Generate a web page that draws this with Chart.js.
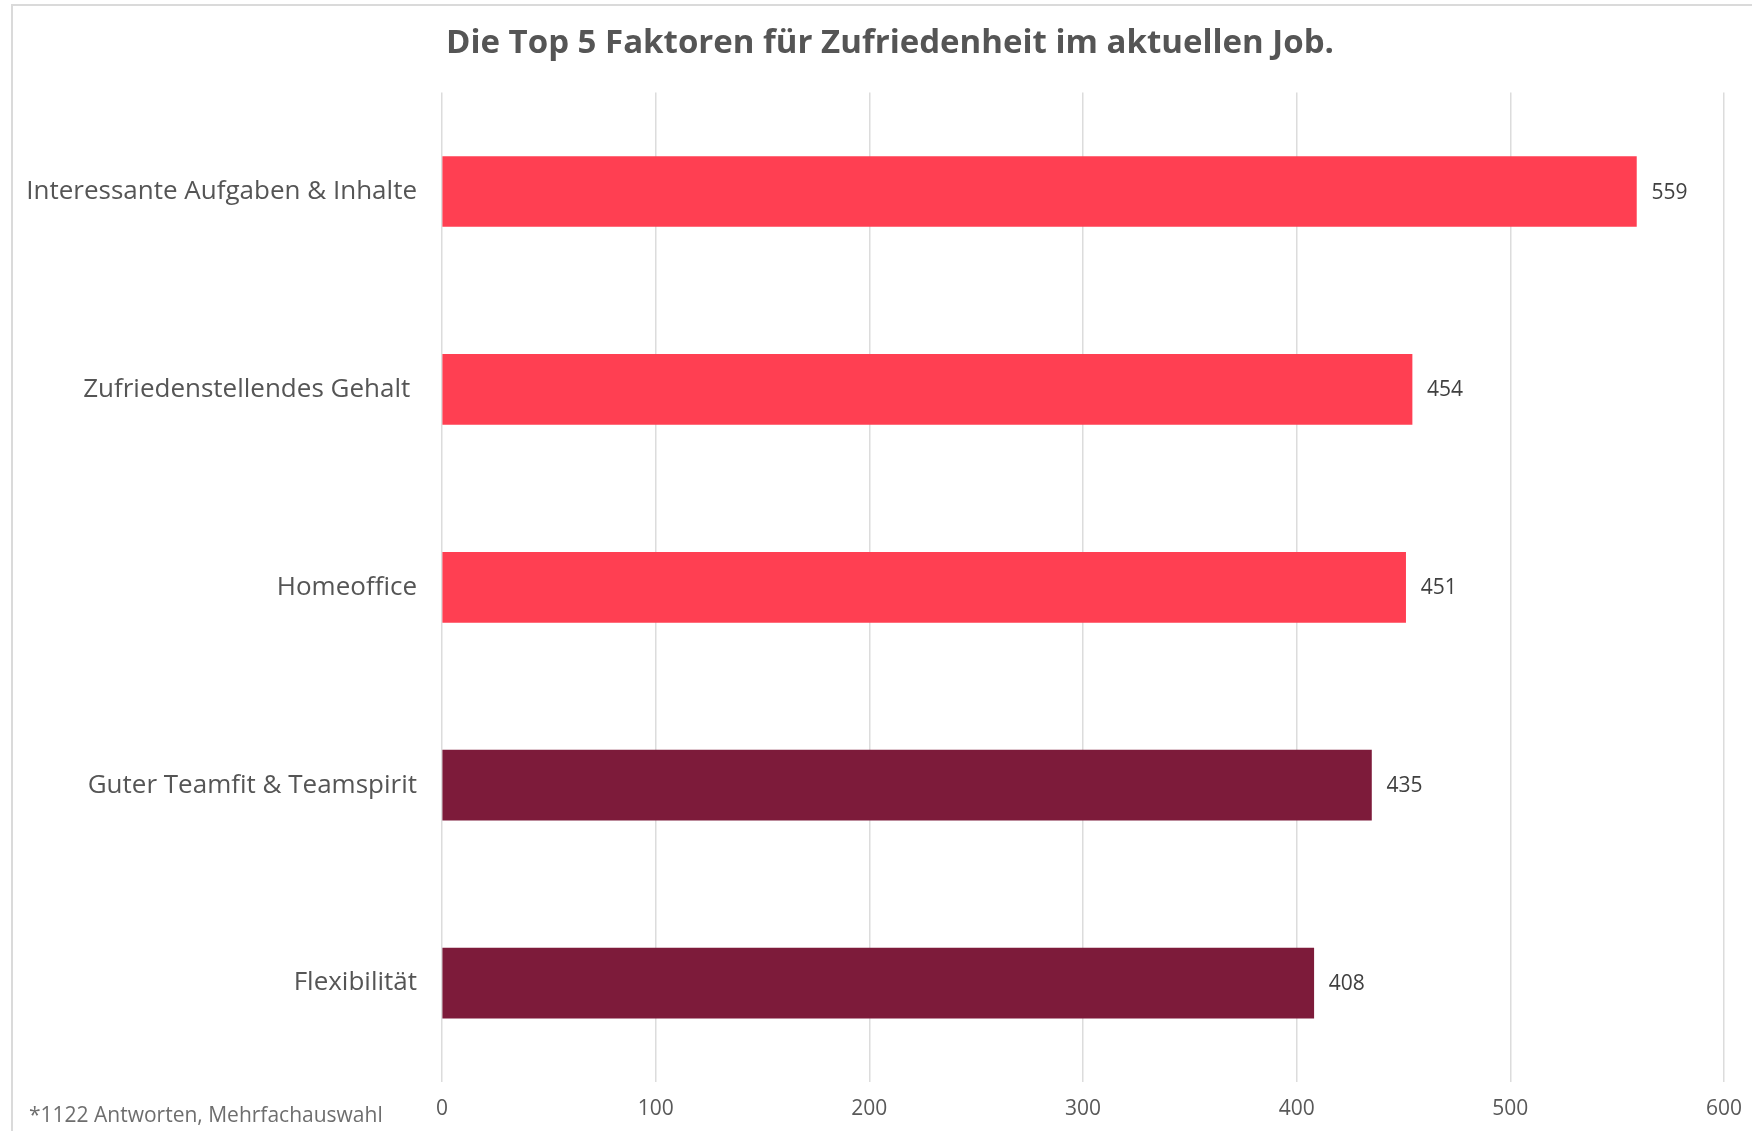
<!DOCTYPE html>
<html>
<head>
<meta charset="utf-8">
<script src="https://cdn.jsdelivr.net/npm/chart.js@4.4.1/dist/chart.umd.min.js"></script>
<style>
  html, body { margin: 0; padding: 0; background: #ffffff; overflow: hidden; width: 1752px; height: 1131px; }
  #frame { position: absolute; left: 11px; top: 4px; width: 1760px; height: 1140px; border-left: 2px solid #dadada; border-top: 2px solid #dadada; }
  #chart { position: absolute; left: 0; top: 0; }
  #note { position: absolute; left: 29px; top: 1102px; font-family: "Open Sans", sans-serif; font-size: 21px; line-height: 24px; color: #6e6e6e; white-space: nowrap; }
</style>
</head>
<body>
<div id="frame"></div>
<canvas id="chart" width="1780" height="1131"></canvas>
<div id="note">*1122 Antworten, Mehrfachauswahl</div>
<script>
const titleText = "Die Top 5 Faktoren für Zufriedenheit im aktuellen Job.";
const categories = [
  "Interessante Aufgaben & Inhalte",
  "Zufriedenstellendes Gehalt ",
  "Homeoffice",
  "Guter Teamfit & Teamspirit",
  "Flexibilität"
];
const values = [559, 454, 451, 435, 408];
const barColors = ["#FF3F52", "#FF3F52", "#FF3F52", "#7D1B3A", "#7D1B3A"];
const xTicks = [0, 100, 200, 300, 400, 500, 600];

const valueLabels = {
  id: "valueLabels",
  afterDatasetsDraw(chart) {
    const ctx = chart.ctx;
    const meta = chart.getDatasetMeta(0);
    ctx.save();
    ctx.font = "400 21px 'Open Sans', sans-serif";
    ctx.fillStyle = "#404040";
    ctx.textAlign = "left";
    ctx.textBaseline = "middle";
    meta.data.forEach((bar, i) => {
      ctx.fillText(String(chart.data.datasets[0].data[i]), bar.x + 15, bar.y + 1);
    });
    ctx.restore();
  }
};

new Chart(document.getElementById("chart"), {
  type: "bar",
  data: {
    labels: categories,
    datasets: [{
      data: values,
      backgroundColor: barColors,
      borderWidth: 0,
      barThickness: 70,
      yAxisID: "y"
    }]
  },
  options: {
    indexAxis: "y",
    responsive: false,
    animation: false,
    devicePixelRatio: 1,
    layout: { padding: { left: 0, right: 0, top: 0, bottom: 10 } },
    plugins: {
      legend: { display: false },
      tooltip: { enabled: false },
      title: {
        display: true,
        text: titleText,
        color: "#555555",
        font: { family: "'Open Sans', sans-serif", size: 33, weight: "bold", lineHeight: 1.2 },
        padding: { top: 24, bottom: 29 }
      }
    },
    scales: {
      x: {
        min: 0,
        max: 600,
        afterBuildTicks(scale) { scale.ticks = xTicks.map(v => ({ value: v })); },
        afterFit(scale) { scale.height = 39; },
        grid: { display: true, color: "#dcdcdc", lineWidth: 1.5, drawTicks: false },
        border: { display: false },
        ticks: {
          color: "#595959",
          padding: 14,
          font: { family: "'Open Sans', sans-serif", size: 21, lineHeight: 1.2 }
        }
      },
      y: {
        afterFit(scale) { scale.width = 442; },
        grid: { display: false, drawTicks: false },
        border: { display: false },
        ticks: {
          color: "#555555",
          padding: 25,
          font: { family: "'Open Sans', sans-serif", size: 26 }
        }
      },
      yRight: {
        type: "category",
        axis: "y",
        position: "right",
        labels: categories,
        afterFit(scale) { scale.width = 56; },
        grid: { display: false, drawTicks: false },
        border: { display: false },
        ticks: { display: false }
      }
    }
  },
  plugins: [valueLabels]
});
</script>
</body>
</html>
